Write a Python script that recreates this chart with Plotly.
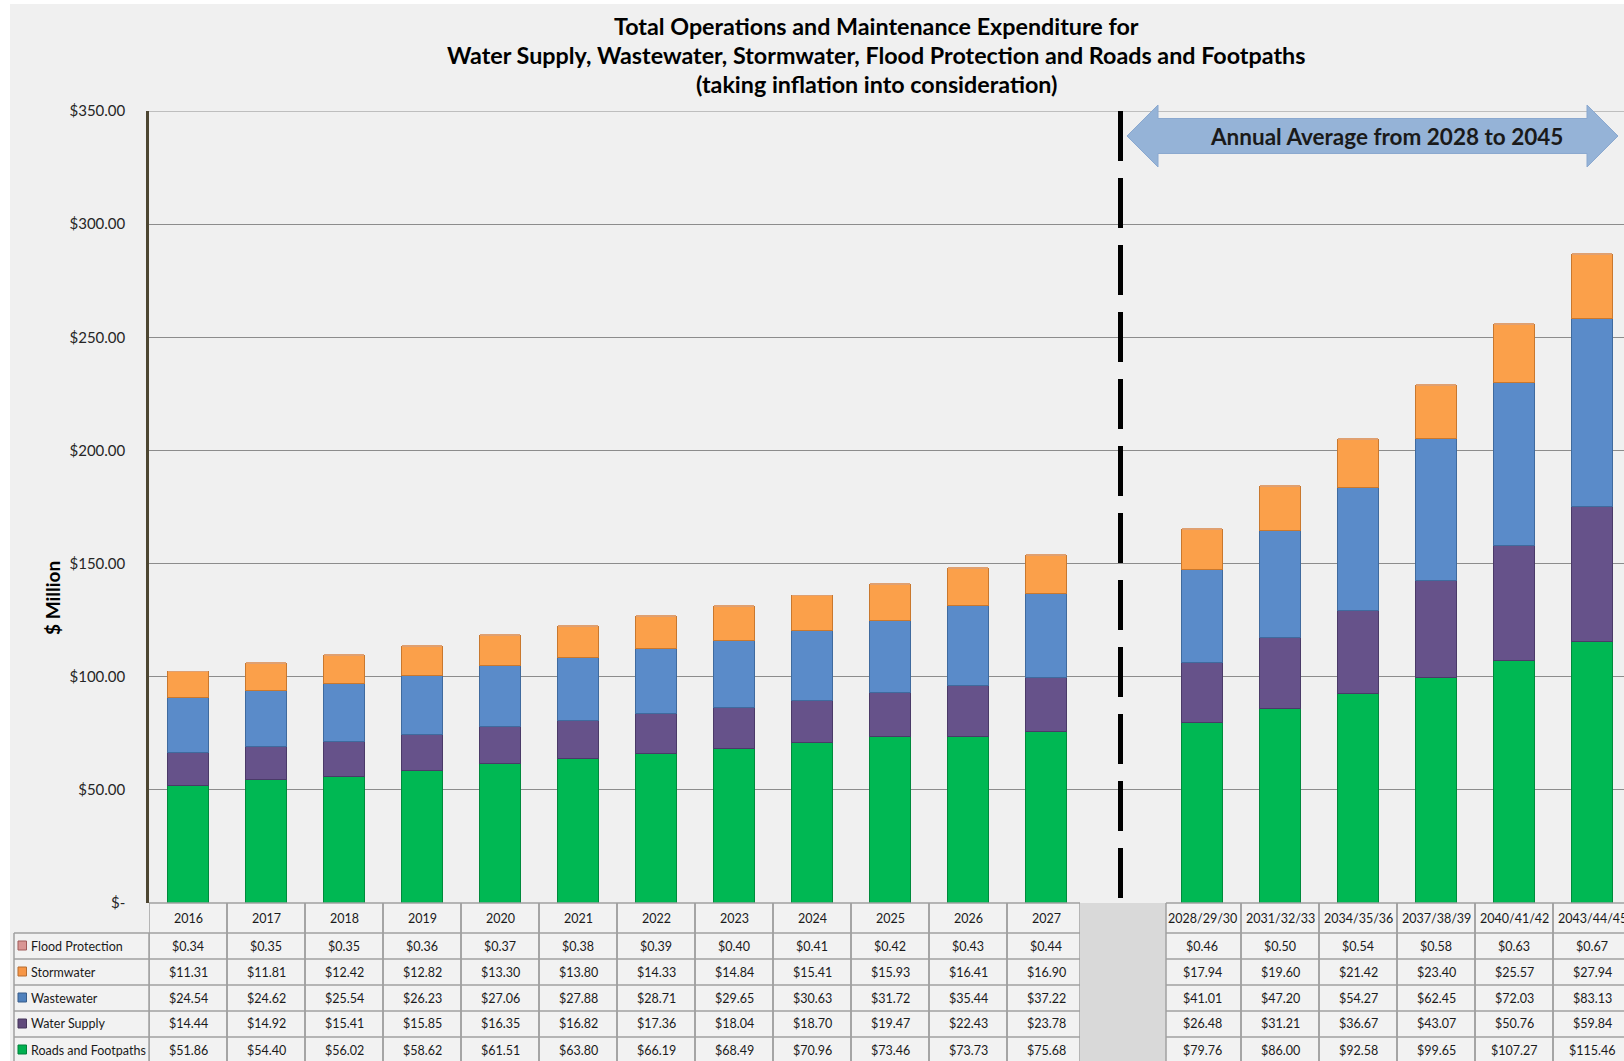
import plotly.graph_objects as go

# ---------------- data ----------------
years = ["2016", "2017", "2018", "2019", "2020", "2021", "2022", "2023",
         "2024", "2025", "2026", "2027"]
avg_periods = ["2028/29/30", "2031/32/33", "2034/35/36", "2037/38/39",
               "2040/41/42", "2043/44/45"]
categories = years + [""] + avg_periods   # blank slot = divider

series_names = ["Roads and Footpaths", "Water Supply", "Wastewater",
                "Stormwater", "Flood Protection"]
roads = [51.86, 54.40, 56.02, 58.62, 61.51, 63.80, 66.19, 68.49, 70.96, 73.46,
         73.73, 75.68, 79.76, 86.00, 92.58, 99.65, 107.27, 115.46]
water_supply = [14.44, 14.92, 15.41, 15.85, 16.35, 16.82, 17.36, 18.04, 18.70,
                19.47, 22.43, 23.78, 26.48, 31.21, 36.67, 43.07, 50.76, 59.84]
wastewater = [24.54, 24.62, 25.54, 26.23, 27.06, 27.88, 28.71, 29.65, 30.63,
              31.72, 35.44, 37.22, 41.01, 47.20, 54.27, 62.45, 72.03, 83.13]
stormwater = [11.31, 11.81, 12.42, 12.82, 13.30, 13.80, 14.33, 14.84, 15.41,
              15.93, 16.41, 16.90, 17.94, 19.60, 21.42, 23.40, 25.57, 27.94]
flood = [0.34, 0.35, 0.35, 0.36, 0.37, 0.38, 0.39, 0.40, 0.41, 0.42, 0.43,
         0.44, 0.46, 0.50, 0.54, 0.58, 0.63, 0.67]

y_tickvals = [0, 50, 100, 150, 200, 250, 300, 350]
y_ticktext = ["$-", "$50.00", "$100.00", "$150.00", "$200.00", "$250.00",
              "$300.00", "$350.00"]

colors = {
    "Roads and Footpaths": ("#00b853", "#008a3c", 1),
    "Water Supply": ("#66528a", "#4a3a68", 1),
    "Wastewater": ("#5a8bc9", "#3f6a9e", 1),
    "Stormwater": ("#fba04a", "#c9782e", 1),
    "Flood Protection": ("#e0a070", "#c9782e", 0),
}
key_colors = {
    "Roads and Footpaths": ("#00b050", "#00803a"),
    "Water Supply": ("#604a7b", "#45355a"),
    "Wastewater": ("#4f81bd", "#385d8a"),
    "Stormwater": ("#f79646", "#b66d31"),
    "Flood Protection": ("#d99694", "#a05a58"),
}
series_values = {
    "Roads and Footpaths": roads,
    "Water Supply": water_supply,
    "Wastewater": wastewater,
    "Stormwater": stormwater,
    "Flood Protection": flood,
}
# table row order (top to bottom)
table_rows = ["Flood Protection", "Stormwater", "Wastewater", "Water Supply",
              "Roads and Footpaths"]

# ---------------- geometry ----------------
W, H = 1624, 1061
L, R, T, B = 149, 1624, 111, 903
SLOT = 78.0
FONT = "Lato"


def pxx(px):
    return (px - L) / (R - L)


def pxy(py):
    return (B - py) / (B - T)


def px2data(px):
    return (px - L) / SLOT - 0.5


x_pos = [i for i, c in enumerate(categories) if c]
gap_pos = categories.index("")
gap_lo, gap_hi = px2data(1080), px2data(1166)

fig = go.Figure()
for name in series_names:
    fc, lc, lw = colors[name]
    fig.add_trace(go.Bar(
        x=x_pos, y=series_values[name], name=name, width=0.52,
        marker=dict(color=fc, line=dict(color=lc, width=lw)),
        showlegend=False,
    ))

shapes = []
annotations = []

# chart background (white margin at top/left)
shapes.append(dict(type="rect", xref="paper", yref="paper", layer="below",
                   x0=pxx(10), x1=pxx(1640), y0=pxy(4), y1=pxy(1070),
                   fillcolor="#f0f0f0", line=dict(width=0)))

# top border line of plot
shapes.append(dict(type="line", xref="paper", yref="y", x0=0, x1=1, y0=350,
                   y1=350, line=dict(color="#8c8c8c", width=1.2)))

# dashed divider
xd = px2data(1120.5)
shapes.append(dict(type="line", xref="x", yref="y", x0=xd, x1=xd, y0=350,
                   y1=0,
                   line=dict(color="#000000", width=5, dash="50px,17px")))

# double-headed arrow
ax0, ax1, ab0, ab1 = 1127, 1618, 1158, 1587
ayc, ash, ahh = 136, 17.5, 31
pts = [(ax0, ayc), (ab0, ayc - ahh), (ab0, ayc - ash), (ab1, ayc - ash),
       (ab1, ayc - ahh), (ax1, ayc), (ab1, ayc + ahh), (ab1, ayc + ash),
       (ab0, ayc + ash), (ab0, ayc + ahh)]
path = "M " + " L ".join(f"{pxx(px):.5f},{pxy(py):.5f}" for px, py in pts) + " Z"
shapes.append(dict(type="path", xref="paper", yref="paper", path=path,
                   fillcolor="#95b3d7", line=dict(color="#8aa8cf", width=1)))
annotations.append(dict(xref="paper", yref="paper", x=pxx(1386), y=pxy(136),
                        text="<b>Annual Average from 2028 to 2045</b>",
                        showarrow=False, xanchor="center", yanchor="middle",
                        font=dict(family=FONT, size=22.5, color="#1a1a1a")))

# title lines
title_lines = ["Total Operations and Maintenance Expenditure for",
               "Water Supply, Wastewater, Stormwater, Flood Protection and Roads and Footpaths",
               "(taking inflation into consideration)"]
for line, ty in zip(title_lines, [26, 55, 84]):
    annotations.append(dict(xref="paper", yref="paper", x=pxx(876), y=pxy(ty),
                            text=f"<b>{line}</b>", showarrow=False,
                            xanchor="center", yanchor="middle",
                            font=dict(family=FONT, size=23.3, color="#000000")))

# y axis title
annotations.append(dict(xref="paper", yref="paper", x=pxx(52), y=pxy(598),
                        text="<b>$ Million</b>", showarrow=False, textangle=-90,
                        xanchor="center", yanchor="middle",
                        font=dict(family=FONT, size=19, color="#000000")))

# ---------------- data table ----------------
row_edges = [903, 933, 959, 985, 1011, 1037, 1063]
border = "#a0a0a0"
cell_bg = "#f2f2f2"
n_cols = len(categories)


def col_bounds(i):
    lo, hi = i - 0.5, i + 0.5
    if i == gap_pos - 1:
        hi = gap_lo
    if i == gap_pos + 1:
        lo = gap_hi
    if i == gap_pos:
        lo, hi = gap_lo, gap_hi
    return lo, hi


for i, cat in enumerate(categories):
    lo, hi = col_bounds(i)
    if cat == "":
        shapes.append(dict(type="rect", xref="x", yref="paper",
                           x0=lo, x1=hi, y0=pxy(row_edges[0]),
                           y1=pxy(row_edges[-1]), fillcolor="#d9d9d9",
                           line=dict(width=0)))
        continue
    shapes.append(dict(type="rect", xref="x", yref="paper", layer="below",
                       x0=lo, x1=hi, y0=pxy(row_edges[0]),
                       y1=pxy(row_edges[-1]), fillcolor=cell_bg,
                       line=dict(width=0)))
    for xe in (lo, hi):
        shapes.append(dict(type="line", xref="x", yref="paper", x0=xe, x1=xe,
                           y0=pxy(row_edges[0]), y1=pxy(row_edges[-1]),
                           line=dict(color=border, width=1.5)))

# label column background and borders
shapes.append(dict(type="rect", xref="paper", yref="paper", layer="below",
                   x0=pxx(14), x1=0, y0=pxy(row_edges[1]),
                   y1=pxy(row_edges[-1]), fillcolor=cell_bg, line=dict(width=0)))
for xe in (pxx(14), 0):
    shapes.append(dict(type="line", xref="paper", yref="paper", x0=xe, x1=xe,
                       y0=pxy(row_edges[1]), y1=pxy(row_edges[-1]),
                       line=dict(color=border, width=1.5)))

# horizontal grid lines
for k, ye in enumerate(row_edges):
    for seg in ((-0.5, gap_lo), (gap_hi, n_cols - 0.5)):
        shapes.append(dict(type="line", xref="x", yref="paper", x0=seg[0],
                           x1=seg[1], y0=pxy(ye), y1=pxy(ye),
                           line=dict(color=border, width=1.5)))
    if k >= 1:
        shapes.append(dict(type="line", xref="paper", yref="paper", x0=pxx(14),
                           x1=0, y0=pxy(ye), y1=pxy(ye),
                           line=dict(color=border, width=1.5)))

# header texts
hdr_y = pxy((row_edges[0] + row_edges[1]) / 2)
for i, cat in enumerate(categories):
    if cat:
        annotations.append(dict(xref="x", yref="paper", x=i, y=hdr_y, text=cat,
                                showarrow=False, xanchor="center",
                                yanchor="middle",
                                font=dict(family=FONT, size=12.5,
                                          color="#1a1a1a")))

# rows
for r, name in enumerate(table_rows):
    yc_px = (row_edges[r + 1] + row_edges[r + 2]) / 2
    yc = pxy(yc_px)
    kc, kl = key_colors[name]
    shapes.append(dict(type="rect", xref="paper", yref="paper",
                       x0=pxx(18), x1=pxx(26.5), y0=pxy(yc_px - 5),
                       y1=pxy(yc_px + 4), fillcolor=kc,
                       line=dict(color=kl, width=1)))
    annotations.append(dict(xref="paper", yref="paper", x=pxx(29), y=yc,
                            text=name, showarrow=False, xanchor="left",
                            yanchor="middle",
                            font=dict(family=FONT, size=12.5, color="#1a1a1a")))
    vals = series_values[name]
    for xp, v in zip(x_pos, vals):
        annotations.append(dict(xref="x", yref="paper", x=xp, y=yc,
                                text=f"${v:.2f}", showarrow=False,
                                xanchor="center", yanchor="middle",
                                font=dict(family=FONT, size=12.5,
                                          color="#1a1a1a")))

fig.update_layout(
    width=W, height=H,
    margin=dict(l=L, r=W - R, t=T, b=H - B, pad=0),
    paper_bgcolor="#ffffff",
    plot_bgcolor="#d9d9d9",
    barmode="stack",
    font=dict(family=FONT, color="#262626"),
    xaxis=dict(range=[-0.5, px2data(R)], showticklabels=False,
               showgrid=False, zeroline=False, ticks="", fixedrange=True),
    yaxis=dict(range=[0, 350], tickvals=y_tickvals, ticktext=y_ticktext,
               showgrid=True, gridcolor="#8c8c8c", gridwidth=1.2,
               zeroline=False, showline=True, linecolor="#4d4632",
               linewidth=2.5, ticks="outside", ticklen=18,
               tickcolor="rgba(0,0,0,0)",
               tickfont=dict(family=FONT, size=15, color="#262626")),
    shapes=shapes,
    annotations=annotations,
    showlegend=False,
)

fig.write_html(
    "out.html",
    config={"displayModeBar": False},
    post_script="document.body.style.margin='0px';"
                "document.body.style.overflow='hidden';",
)
